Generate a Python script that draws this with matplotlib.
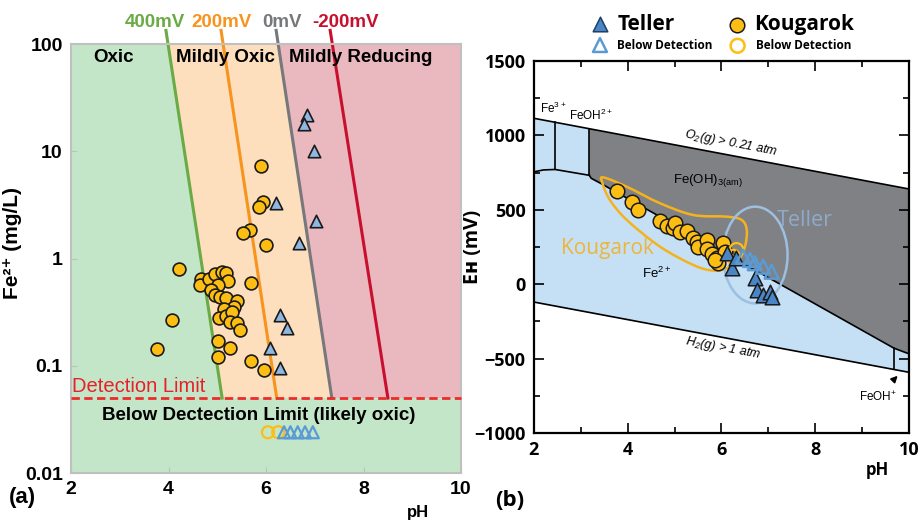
import numpy as np
import matplotlib.pyplot as plt
from matplotlib.patches import Ellipse, Polygon, PathPatch
from matplotlib.path import Path
from matplotlib.ticker import NullLocator

plt.rcParams['font.family'] = ['Liberation Sans', 'DejaVu Sans']
plt.rcParams['mathtext.default'] = 'regular'

# ---------------- panel (a): dissolved Fe2+ vs pH ----------------
eh_labels = ['400mV', '200mV', '0mV', '-200mV']
eh_colors = ['#6aab46', '#f7941d', '#77787b', '#c8102e']
eh_ph_top = [3.99, 5.12, 6.25, 7.36]   # pH of each Eh contour at Fe = 100 mg/L
eh_ph_dl = [5.10, 6.22, 7.35, 8.50]    # pH of each Eh contour at the detection limit
detection_limit = 0.05

kou_ph = [4.21, 5.90, 5.93, 5.86, 5.67, 5.52, 6.00, 4.07, 3.77, 4.67, 4.65, 4.83,
          4.96, 5.09, 5.17, 5.21, 5.02, 4.87, 4.96, 5.06, 5.17, 5.41, 5.69, 5.35,
          5.14, 5.04, 5.18, 5.30, 5.26, 5.41, 5.47, 5.02, 5.26, 5.02, 5.69, 5.95]
kou_fe = [0.80, 7.3, 3.34, 3.0, 1.85, 1.72, 1.35, 0.267, 0.143, 0.65, 0.566, 0.64,
          0.71, 0.75, 0.74, 0.62, 0.57, 0.51, 0.46, 0.44, 0.43, 0.40, 0.59, 0.35,
          0.34, 0.28, 0.29, 0.32, 0.254, 0.25, 0.215, 0.17, 0.145, 0.121, 0.111, 0.091]
tel_ph = [6.85, 6.77, 6.99, 6.20, 7.03, 6.68, 6.28, 6.43, 6.09, 6.29]
tel_fe = [22, 18, 10, 3.3, 2.24, 1.39, 0.295, 0.226, 0.145, 0.096]
kou_bdl_ph = [6.04, 6.25]
tel_bdl_ph = [6.37, 6.50, 6.65, 6.80, 6.96]
bdl_fe = 0.024

# ---------------- panel (b): Eh-pH diagram ----------------
o2_ph = [2, 10]
o2_eh = [1115, 640]
h2_eh = [-120, -592]
fe2_ph = [2.0, 2.2, 2.45, 3.18]
fe2_eh = [755, 768, 771, 732]
feoh3_ph = [3.18, 3.22, 3.41, 9.68, 10.0]
feoh3_eh = [732, 712, 680, -430, -468]
split_ph = [2.45, 3.18]      # Fe3+ | FeOH2+ | Fe(OH)3
feohp_ph = 9.68              # Fe2+ | FeOH+

kou_eh_ph = [3.77, 4.09, 4.22, 4.69, 4.84, 4.96, 5.01, 5.11, 5.26, 5.39, 5.48, 5.50,
             5.69, 5.69, 5.80, 5.90, 5.92, 6.03, 6.07, 5.86]
kou_eh = [626, 552, 499, 425, 391, 378, 411, 351, 358, 311, 284, 250,
          297, 237, 203, 176, 143, 277, 217, 163]
tel_eh_ph = [6.11, 6.22, 6.32, 6.71, 6.75, 6.89, 7.03, 7.07]
tel_eh = [208, 107, 174, 40, -39, -72, -50, -84]
tel_bdl_eh_ph = [6.46, 6.61, 6.71, 6.89, 7.07]
tel_bdl_eh = [185, 163, 141, 118, 84]
kou_bdl_eh_ph = [6.32, 6.25]
kou_bdl_eh = [230, 185]

# hand-drawn outlines around each site
kou_hull_ph = [3.48, 3.98, 4.69, 5.40, 6.11, 6.43, 6.54, 6.50, 6.36, 6.11, 5.82, 5.40,
               4.69, 3.98, 3.62, 3.46]
kou_hull_eh = [718, 655, 544, 465, 454, 432, 364, 252, 163, 107, 91, 129,
               252, 432, 566, 680]

GOLD = '#fdbe14'
LBLUE = '#8fb7e0'
BLUE = '#4a86c6'


def contour_ph(i, fe):
    frac = (2 - np.log10(fe)) / (2 - np.log10(detection_limit))
    return eh_ph_top[i] + (eh_ph_dl[i] - eh_ph_top[i]) * frac


def smooth_closed(xs, ys):
    # closed Catmull-Rom curve through the points, as cubic Bezier segments
    p = np.column_stack([xs, ys]).astype(float)
    n = len(p)
    verts = [p[0]]
    codes = [Path.MOVETO]
    for i in range(n):
        p0, p1, p2, p3 = p[i - 1], p[i], p[(i + 1) % n], p[(i + 2) % n]
        verts += [p1 + (p2 - p0) / 6, p2 - (p3 - p1) / 6, p2]
        codes += [Path.CURVE4] * 3
    return Path(verts, codes)


fig = plt.figure(figsize=(9.2, 5.21), dpi=100)
ax1 = fig.add_axes([0.0772, 0.0921, 0.4239, 0.8234])
ax2 = fig.add_axes([0.5804, 0.1689, 0.4076, 0.714])

# ---- panel (a) ----
ax1.set_yscale('log')
ax1.set_xlim(2, 10)
ax1.set_ylim(0.01, 100)

yy = np.geomspace(detection_limit, 100, 60)
ax1.fill_betweenx(yy, 2, contour_ph(0, yy), color='#c4e6c8', lw=0, zorder=0)
ax1.fill_betweenx(yy, contour_ph(0, yy), contour_ph(2, yy), color='#fddfbd', lw=0, zorder=0)
ax1.fill_betweenx(yy, contour_ph(2, yy), 10, color='#eab8bf', lw=0, zorder=0)
ax1.axhspan(0.01, detection_limit, color='#c4e6c8', lw=0, zorder=0)

yl = np.geomspace(detection_limit, 134, 60)
offsets = [-7, 1.5, 5, 12]
for i, (lab, col) in enumerate(zip(eh_labels, eh_colors)):
    ax1.plot(contour_ph(i, yl), yl, color=col, lw=2.2, clip_on=False, zorder=2)
    ax1.annotate(lab, (contour_ph(i, 158), 158), xytext=(offsets[i], 0),
                 textcoords='offset points', ha='center', va='center',
                 color=col, fontsize=13.5, fontweight='bold', annotation_clip=False)

ax1.axhline(detection_limit, color='#ee2a2a', lw=2, ls=(0, (3, 1.6)), zorder=3,
            clip_on=False)
ax1.text(2.02, 0.0525, 'Detection Limit', color='#e8202a', fontsize=14.5,
         va='bottom', ha='left')
ax1.text(0.48, 0.135, 'Below Dectection Limit (likely oxic)', transform=ax1.transAxes,
         ha='center', va='center', fontsize=13.5, fontweight='bold')
for x, s in [(0.108, 'Oxic'), (0.397, 'Mildly Oxic'), (0.744, 'Mildly Reducing')]:
    ax1.text(x, 0.968, s, transform=ax1.transAxes, ha='center', va='center',
             fontsize=13.5, fontweight='bold')

ax1.scatter(kou_ph, kou_fe, s=85, c=GOLD, edgecolors='#1a1a1a', lw=1.2, zorder=5)
ax1.scatter(tel_ph, tel_fe, s=80, marker='^', c=LBLUE, edgecolors='#1a1a1a', lw=1.2, zorder=5)
ax1.scatter(kou_bdl_ph, [bdl_fe] * len(kou_bdl_ph), s=75, facecolors='none',
            edgecolors=GOLD, lw=1.6, zorder=5)
ax1.scatter(tel_bdl_ph, [bdl_fe] * len(tel_bdl_ph), s=75, marker='^', facecolors='none',
            edgecolors='#5b9bd5', lw=1.6, zorder=5)

ax1.set_xticks([2, 4, 6, 8, 10], ['2', '4', '6', '8', '10'], fontsize=14, fontweight='bold')
ax1.set_yticks([0.01, 0.1, 1, 10, 100], ['0.01', '0.1', '1', '10', '100'],
               fontsize=14, fontweight='bold')
ax1.yaxis.set_minor_locator(NullLocator())
ax1.tick_params(direction='in', length=4, color='#c0c0c0', pad=6)
for sp in ax1.spines.values():
    sp.set_color('#c0c0c0')
    sp.set_linewidth(1.5)
ax1.set_ylabel('Fe²⁺ (mg/L)', fontsize=15, fontweight='bold')
ax1.yaxis.set_label_coords(-0.126, 0.536)

# ---- panel (b) ----
ax2.set_xlim(2, 10)
ax2.set_ylim(-1000, 1500)
ax2.fill_between(o2_ph, h2_eh, o2_eh, color='#c5e0f5', lw=0, zorder=0)
o2_at = lambda p: np.interp(p, o2_ph, o2_eh)
h2_at = lambda p: np.interp(p, o2_ph, h2_eh)
gray_poly = [(feoh3_ph[0], o2_at(feoh3_ph[0])), (10, o2_at(10))] + \
    list(zip(feoh3_ph, feoh3_eh))[::-1]
ax2.add_patch(Polygon(gray_poly, closed=True, fc='#808184', ec='none', zorder=0.5))

lk = dict(color='black', lw=1.2, zorder=1)
ax2.plot(o2_ph, o2_eh, **lk)
ax2.plot(o2_ph, h2_eh, **lk)
ax2.plot(fe2_ph, fe2_eh, **lk)
ax2.plot(feoh3_ph, feoh3_eh, **lk)
for p in split_ph:
    ax2.plot([p, p], [np.interp(p, fe2_ph, fe2_eh), o2_at(p)], **lk)
ax2.plot([feohp_ph, feohp_ph], [h2_at(feohp_ph), np.interp(feohp_ph, feoh3_ph, feoh3_eh)], **lk)

ax2.text(2.12, 1182, 'Fe$^{3+}$', fontsize=8.5, va='center')
ax2.text(2.75, 1137, 'FeOH$^{2+}$', fontsize=8.5, va='center')
ax2.text(6.2, 950, 'O$_2$(g) > 0.21 atm', fontsize=9, style='italic', rotation=-11,
         ha='center', va='center')
ax2.text(6.03, -432, 'H$_2$(g) > 1 atm', fontsize=9, style='italic', rotation=-10.5,
         ha='center', va='center')
ax2.text(5.71, 700, 'Fe(OH)$_{3(am)}$', fontsize=9.5, ha='center', va='center')
ax2.text(4.62, 73, 'Fe$^{2+}$', fontsize=9.5, ha='center', va='center')
ax2.annotate('FeOH$^{+}$', xy=(9.76, -615), xytext=(9.33, -756), fontsize=8.5,
             ha='center', va='center',
             arrowprops=dict(arrowstyle='-|>', color='black', lw=1.3,
                             shrinkA=9, shrinkB=0, mutation_scale=9))
ax2.text(3.56, 241, 'Kougarok', fontsize=15, color='#edb53a', family='Open Sans',
         ha='center', va='center')
ax2.text(7.78, 431, 'Teller', fontsize=15.5, color='#8eaacb', family='Open Sans',
         ha='center', va='center')

ax2.add_patch(PathPatch(smooth_closed(kou_hull_ph, kou_hull_eh), fill=False,
                        ec='#f5b21f', lw=1.8, zorder=2))
ax2.add_patch(Ellipse((6.72, 196), 1.38, 650, fill=False, ec='#9dbfe0', lw=1.8, zorder=2))

ax2.scatter(kou_eh_ph, kou_eh, s=110, c=GOLD, edgecolors='#1a1a1a', lw=1.1, zorder=5)
ax2.scatter(kou_bdl_eh_ph, kou_bdl_eh, s=100, facecolors='none', edgecolors=GOLD,
            lw=1.6, zorder=5)
ax2.scatter(tel_eh_ph, tel_eh, s=110, marker='^', c=BLUE, edgecolors='#1a1a1a', lw=1.1, zorder=6)
ax2.scatter(tel_bdl_eh_ph, tel_bdl_eh, s=100, marker='^', facecolors='none',
            edgecolors='#5b9bd5', lw=1.8, zorder=6)

ax2.set_xticks([2, 4, 6, 8, 10], ['2', '4', '6', '8', '10'], fontsize=13,
               fontweight='bold', family='Open Sans')
ax2.set_xticks([3, 5, 7, 9], minor=True)
ax2.set_yticks([-1000, -500, 0, 500, 1000, 1500],
               ['\u22121000', '\u2212500', '0', '500', '1000', '1500'],
               fontsize=13, fontweight='bold', family='Open Sans')
ax2.set_yticks([-750, -250, 250, 750, 1250], minor=True)
ax2.tick_params(which='both', direction='in', top=True, right=True, width=1.2)
ax2.tick_params(which='major', length=7, pad=6)
ax2.tick_params(which='minor', length=4)
for sp in ax2.spines.values():
    sp.set_linewidth(1.6)
ax2.set_ylabel('E\u029c (mV)', fontsize=14, fontweight='bold',
               family=['Open Sans', 'DejaVu Sans'])
ax2.yaxis.set_label_coords(-0.136, 0.5)

# legend row above panel (b)
lg = dict(transform=ax2.transAxes, clip_on=False, zorder=10)
ax2.scatter([0.176], [1.099], s=110, marker='^', c=BLUE, edgecolors='#1f3f66', lw=1.1, **lg)
ax2.scatter([0.541], [1.097], s=110, c=GOLD, edgecolors='#1a1a1a', lw=1.1, **lg)
ax2.scatter([0.176], [1.043], s=100, marker='^', facecolors='none', edgecolors='#5b9bd5', lw=1.8, **lg)
ax2.scatter([0.543], [1.041], s=100, facecolors='none', edgecolors=GOLD, lw=1.8, **lg)
ax2.text(0.222, 1.099, 'Teller', transform=ax2.transAxes, fontsize=15, fontweight='bold',
         va='center', family='Open Sans')
ax2.text(0.587, 1.099, 'Kougarok', transform=ax2.transAxes, fontsize=15, fontweight='bold',
         va='center', family='Open Sans')
ax2.text(0.222, 1.043, 'Below Detection', transform=ax2.transAxes, fontsize=8.5,
         fontweight='bold', va='center', family='Open Sans')
ax2.text(0.593, 1.043, 'Below Detection', transform=ax2.transAxes, fontsize=8.5,
         fontweight='bold', va='center', family='Open Sans')

fig.text(418 / 920, 1 - 513 / 521, 'pH', fontsize=12, fontweight='bold', ha='center', va='center')
fig.text(877 / 920, 1 - 470 / 521, 'pH', fontsize=12, fontweight='bold', ha='center',
         va='center', family='Open Sans')
fig.text(22 / 920, 1 - 497 / 521, '(a)', fontsize=16, fontweight='bold', ha='center', va='center')
fig.text(510 / 920, 1 - 500 / 521, '(b)', fontsize=16, fontweight='bold', ha='center',
         va='center', family='Open Sans')

fig.savefig('out.png', dpi=100)
